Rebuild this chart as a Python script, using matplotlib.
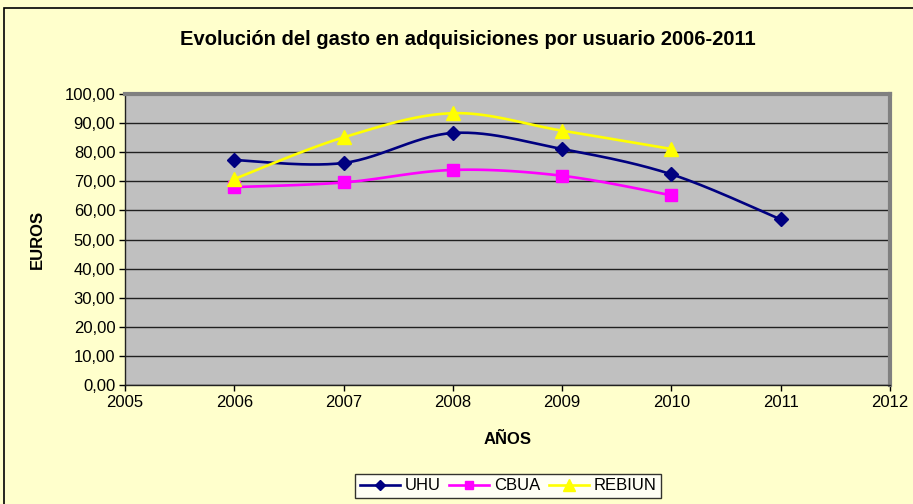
import numpy as np
import matplotlib
matplotlib.use('Agg')
import matplotlib.pyplot as plt
from matplotlib.patches import Rectangle

plt.rcParams['font.family'] = ['Liberation Sans', 'DejaVu Sans']

years = [2006, 2007, 2008, 2009, 2010, 2011]
uhu = [77.3, 76.3, 86.6, 81.1, 72.4, 56.9]
cbua = [68.0, 69.6, 73.9, 71.9, 65.2]
rebiun = [70.8, 85.1, 93.4, 87.4, 81.1]

y_ticks = [0, 10, 20, 30, 40, 50, 60, 70, 80, 90, 100]
x_ticks = [2005, 2006, 2007, 2008, 2009, 2010, 2011, 2012]


def smooth(x, y, n=30):
    # cubic bezier through the points (catmull-rom tangents), like spreadsheet smoothed lines
    x = np.asarray(x, float)
    y = np.asarray(y, float)
    px = np.concatenate([[x[0]], x, [x[-1]]])
    py = np.concatenate([[y[0]], y, [y[-1]]])
    xs, ys = [], []
    t = np.linspace(0, 1, n)
    for i in range(1, len(px) - 2):
        p0 = np.array([px[i], py[i]])
        p3 = np.array([px[i + 1], py[i + 1]])
        p1 = p0 + (np.array([px[i + 1], py[i + 1]]) - np.array([px[i - 1], py[i - 1]])) / 6
        p2 = p3 - (np.array([px[i + 2], py[i + 2]]) - np.array([px[i], py[i]])) / 6
        b = ((1 - t)**3)[:, None] * p0 + (3 * (1 - t)**2 * t)[:, None] * p1 \
            + (3 * (1 - t) * t**2)[:, None] * p2 + (t**3)[:, None] * p3
        xs.extend(b[:, 0])
        ys.extend(b[:, 1])
    return xs, ys


fig = plt.figure(figsize=(9.13, 5.04), dpi=100, facecolor='#FFFFCC')
fig.patches.append(Rectangle((4 / 913, -0.01), 1.0, 1 - 8 / 504 + 0.01, transform=fig.transFigure,
                             fill=False, edgecolor='black', linewidth=1.2))

ax = fig.add_axes([125 / 913, 1 - 385 / 504, (890 - 125) / 913, (385 - 94) / 504])
ax.set_facecolor('#C0C0C0')

series = [
    (years, uhu, '#000080', 'D', 7, 'UHU'),
    (years[:5], cbua, '#FF00FF', 's', 8, 'CBUA'),
    (years[:5], rebiun, '#FFFF00', '^', 10, 'REBIUN'),
]
handles = []
for xv, yv, col, mk, ms, lab in series:
    sx, sy = smooth(xv, yv)
    ax.plot(sx, sy, color=col, linewidth=1.9, zorder=3)
    ax.plot(xv, yv, linestyle='none', marker=mk, markersize=ms, color=col, zorder=4)
    h, = ax.plot([], [], color=col, linewidth=1.9, marker=mk, markersize=ms * 0.8, label=lab)
    handles.append(h)

ax.set_xlim(2005, 2012)
ax.set_ylim(0, 100)
ax.set_xticks(x_ticks)
ax.set_xticklabels([str(v) for v in x_ticks])
ax.set_yticks(y_ticks)
ax.set_yticklabels([f'{v:.2f}'.replace('.', ',') for v in y_ticks])
ax.yaxis.grid(True, color='#202020', linewidth=1.0)
ax.set_axisbelow(True)
ax.tick_params(direction='out', length=4, width=1, colors='black', labelsize=12, pad=3)

for side in ['top', 'right']:
    ax.spines[side].set_color('#808080')
    ax.spines[side].set_linewidth(3)
for side in ['left', 'bottom']:
    ax.spines[side].set_color('#202020')
    ax.spines[side].set_linewidth(1)

ax.set_xlabel('AÑOS', fontsize=12, fontweight='bold', labelpad=16)
ax.set_ylabel('EUROS', fontsize=12, fontweight='bold', labelpad=14)
fig.text(468 / 913, 1 - 40 / 504, 'Evolución del gasto en adquisiciones por usuario 2006-2011',
         ha='center', va='center', fontsize=14.5, fontweight='bold')

leg = fig.legend(handles=handles, loc='center', bbox_to_anchor=(508 / 913, 18 / 504), ncol=3,
                 frameon=True, fancybox=False, fontsize=12, handlelength=2.4,
                 columnspacing=0.5, handletextpad=0.3, borderpad=0.25, edgecolor='black')
leg.get_frame().set_linewidth(1)
leg.get_frame().set_facecolor('white')

fig.savefig('out.png', dpi=100, facecolor=fig.get_facecolor())
